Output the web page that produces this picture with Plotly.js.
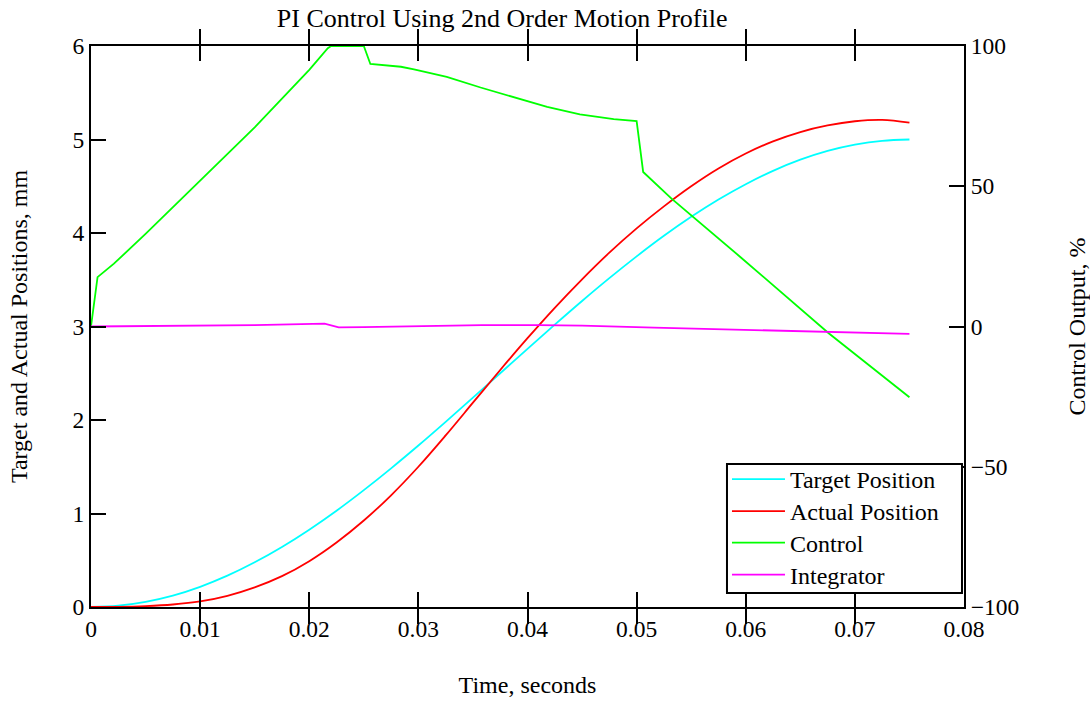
<!DOCTYPE html>
<html>
<head>
<meta charset="utf-8">
<script src="https://cdn.plot.ly/plotly-3.0.1.min.js"></script>
<style>html,body{margin:0;padding:0;background:#fff;}#chart{width:1090px;height:702px;}</style>
</head>
<body>
<div id="chart"></div>
<script>
// Time grid for position traces (seconds)
const timePos = [0,0.0025,0.005,0.0075,0.01,0.0125,0.015,0.0175,0.02,0.0225,0.025,0.0275,0.03,0.0325,0.035,0.0375,0.04,0.0425,0.045,0.0475,0.05,0.0525,0.055,0.0575,0.06,0.0625,0.065,0.0675,0.07,0.0725,0.075];
// Target position, mm
const targetPos = [0,0.014,0.055,0.122,0.216,0.335,0.478,0.642,0.827,1.03,1.25,1.483,1.727,1.98,2.239,2.5,2.761,3.02,3.273,3.517,3.75,3.97,4.173,4.358,4.522,4.665,4.784,4.878,4.945,4.986,5.0];
// Actual position, mm
const actualPos = [0,0.002,0.01,0.027,0.06,0.12,0.21,0.33,0.49,0.69,0.925,1.195,1.5,1.835,2.185,2.535,2.875,3.2,3.505,3.79,4.05,4.285,4.5,4.69,4.85,4.98,5.08,5.15,5.195,5.21,5.18];
// Control output, %
const timeCtrl = [0,0.0006,0.0021,0.005,0.01,0.015,0.02,0.0217,0.022,0.025,0.0256,0.0284,0.0296,0.0326,0.0357,0.0387,0.0418,0.0448,0.0479,0.05,0.0506,0.0532,0.0595,0.0676,0.075];
const control = [0,17.6,22.4,33,52,71,91.5,99.2,100,100,93.6,92.6,91.7,89.0,85.2,81.9,78.3,75.6,73.9,73.2,55.1,45.6,24.8,-2.4,-25.2];
// Integrator, %
const timeInt = [0,0.005,0.01,0.015,0.0214,0.0227,0.025,0.03,0.0358,0.0411,0.045,0.0516,0.06,0.0673,0.075];
const integrator = [0,0.1,0.3,0.5,1.0,-0.3,-0.2,0.2,0.5,0.5,0.3,-0.4,-1.2,-2.0,-2.6];

const seriesNames = ['Target Position','Actual Position','Control','Integrator'];
const xTicks = [0,0.01,0.02,0.03,0.04,0.05,0.06,0.07,0.08];

const FONT = 'Liberation Serif, Times New Roman, serif';
const lw = 1.8;
const traces = [
  {x: timePos, y: targetPos, name: seriesNames[0], mode:'lines', line:{color:'#00ffff', width:lw, shape:'spline', smoothing:1}, legend:'legend', yaxis:'y'},
  {x: timePos, y: actualPos, name: seriesNames[1], mode:'lines', line:{color:'#ff0000', width:lw, shape:'spline', smoothing:1}, legend:'legend2', yaxis:'y'},
  {x: timeCtrl, y: control, name: seriesNames[2], mode:'lines', line:{color:'#00ff00', width:lw}, legend:'legend3', yaxis:'y2'},
  {x: timeInt, y: integrator, name: seriesNames[3], mode:'lines', line:{color:'#ff00ff', width:lw}, legend:'legend4', yaxis:'y2'}
];

function legendRow(yPaper){
  return {x:0.7285, y:yPaper, xanchor:'left', yanchor:'middle', bgcolor:'rgba(0,0,0,0)', borderwidth:0,
    font:{family:FONT, size:24, color:'#000'}, itemwidth:53};
}

const layout = {
  width:1090, height:702,
  margin:{l:91, r:126, t:46, b:95},
  paper_bgcolor:'#fff', plot_bgcolor:'#fff',
  font:{family:FONT, size:23.5, color:'#000'},
  showlegend:true,
  title:{text:'PI Control Using 2nd Order Motion Profile', font:{family:FONT, size:26, color:'#000'}, x:0.471, xref:'paper', xanchor:'center', y:0.974, yref:'container', yanchor:'middle'},
  xaxis:{range:[0,0.08], tickvals:xTicks, ticktext:xTicks.map(v=>String(v)), ticks:'inside', ticklen:15, tickwidth:2, tickcolor:'#000',
    showline:true, linecolor:'#000', linewidth:2, mirror:'allticks', showgrid:false, zeroline:false,
    tickfont:{family:FONT, size:23.5},
    title:{text:'Time, seconds', font:{family:FONT, size:24}, standoff:35}},
  yaxis:{range:[0,6], dtick:1, ticks:'inside', ticklen:15, tickwidth:2, tickcolor:'#000',
    showline:true, linecolor:'#000', linewidth:2, mirror:false, showgrid:false, zeroline:false,
    tickfont:{family:FONT, size:23.5},
    title:{text:'Target and Actual Positions, mm', font:{family:FONT, size:24}, standoff:38}},
  yaxis2:{range:[-100,100], dtick:50, overlaying:'y', side:'right', ticks:'inside', ticklen:15, tickwidth:2, tickcolor:'#000',
    showline:true, linecolor:'#000', linewidth:2, showgrid:false, zeroline:false,
    tickfont:{family:FONT, size:23.5},
    title:{text:'Control Output, %', font:{family:FONT, size:24}, standoff:54}},
  shapes:[{type:'rect', xref:'paper', yref:'paper', x0:0.7285, x1:0.9977, y0:0.025, y1:0.255,
    line:{color:'#000', width:2}, fillcolor:'#fff', layer:'above'}],
  legend: legendRow(0.2273),
  legend2: legendRow(0.1702),
  legend3: legendRow(0.1141),
  legend4: legendRow(0.0570)
};

Plotly.newPlot('chart', traces, layout, {displayModeBar:false, staticPlot:true});
</script>
</body>
</html>
